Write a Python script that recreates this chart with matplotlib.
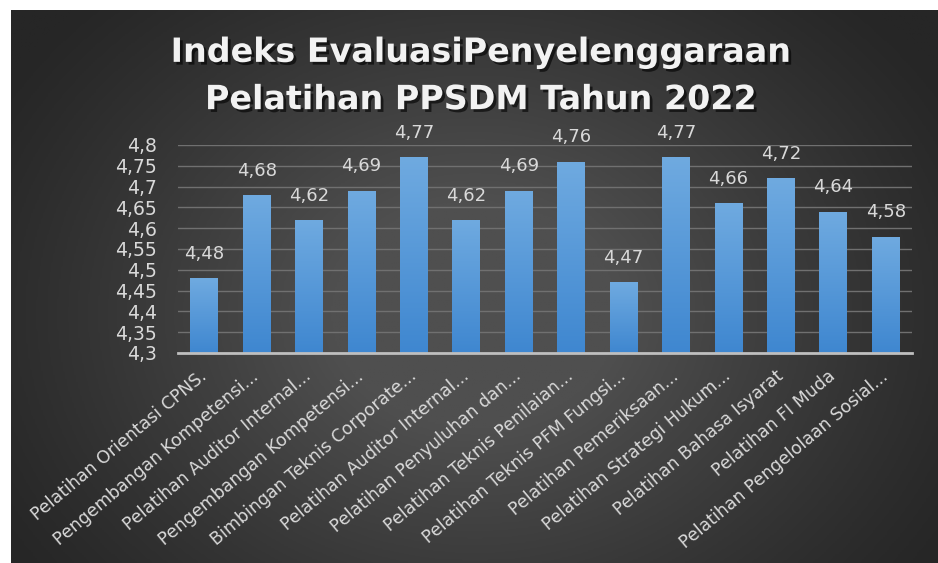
import numpy as np
import matplotlib
matplotlib.use("Agg")
import matplotlib.pyplot as plt
import matplotlib.patheffects as pe
from matplotlib.colors import LinearSegmentedColormap

categories = [
    "Pelatihan Orientasi CPNS.",
    "Pengembangan Kompetensi...",
    "Pelatihan Auditor Internal...",
    "Pengembangan Kompetensi...",
    "Bimbingan Teknis Corporate...",
    "Pelatihan Auditor Internal...",
    "Pelatihan Penyuluhan dan...",
    "Pelatihan Teknis Penilaian...",
    "Pelatihan Teknis PFM Fungsi...",
    "Pelatihan Pemeriksaan...",
    "Pelatihan Strategi Hukum...",
    "Pelatihan Bahasa Isyarat",
    "Pelatihan FI Muda",
    "Pelatihan Pengelolaan Sosial...",
]
values = [4.48, 4.68, 4.62, 4.69, 4.77, 4.62, 4.69, 4.76, 4.47, 4.77, 4.66, 4.72, 4.64, 4.58]
yticks = [4.3, 4.35, 4.4, 4.45, 4.5, 4.55, 4.6, 4.65, 4.7, 4.75, 4.8]
title = "Indeks EvaluasiPenyelenggaraan\nPelatihan PPSDM Tahun 2022"

W, H = 938, 563
fig = plt.figure(figsize=(W / 100, H / 100), dpi=100, facecolor="white")

# dark radial background, white strip top and left
bg = fig.add_axes([11 / W, 0, 1 - 11 / W, 1 - 10 / H])
bg.set_axis_off()
yy, xx = np.mgrid[0:1:300j, 0:1:500j]
r = np.sqrt(((xx - 0.5) / 0.6) ** 2 + ((yy - 0.55) / 0.8) ** 2)
shade = np.clip(1 - r, 0, 1) ** 1.2
bgcmap = LinearSegmentedColormap.from_list("bg", ["#262626", "#4f4f4f"])
bg.imshow(shade, cmap=bgcmap, aspect="auto", extent=[0, 1, 0, 1], vmin=0, vmax=0.7)
bg.set_xlim(0, 1)
bg.set_ylim(0, 1)

ax = fig.add_axes([178 / W, 210 / H, 734 / W, 208 / H])
ax.set_facecolor("none")
x = np.arange(len(values))
bars = ax.bar(x, values, width=0.53, color="#5b9bd5", zorder=3)

barcmap = LinearSegmentedColormap.from_list("bar", ["#3f87d0", "#6faae0"])
grad = np.linspace(0, 1, 100).reshape(-1, 1)
for b in bars:
    x0, w, h = b.get_x(), b.get_width(), b.get_height()
    im = ax.imshow(grad, cmap=barcmap, aspect="auto", origin="lower",
                   extent=[x0, x0 + w, 4.3, h], zorder=4)
    im.set_clip_path(b)
ax.set_ylim(4.3, 4.8)
ax.set_xlim(-0.5, len(values) - 0.5)

for xi, v in zip(x, values):
    ax.annotate(f"{v:.2f}".replace(".", ","), (xi, v), xytext=(0, 11),
                textcoords="offset points", ha="center", va="bottom",
                color="#d9d9d9", fontsize=13, zorder=5)

ax.set_yticks(yticks)
ax.set_yticklabels([f"{t:g}".replace(".", ",") for t in yticks], color="#d9d9d9", fontsize=13.5)
ax.grid(axis="y", color="#707070", linewidth=1, zorder=0)
ax.set_xticks(x)
ax.set_xticklabels(categories, rotation=40, ha="right", va="center",
                   rotation_mode="anchor", color="#d9d9d9", fontsize=12.5)
ax.tick_params(axis="both", length=0)
ax.tick_params(axis="x", pad=15)
ax.tick_params(axis="y", pad=15)
for s in ["top", "right", "left"]:
    ax.spines[s].set_visible(False)
ax.spines["bottom"].set_color("#bfbfbf")
ax.spines["bottom"].set_linewidth(2)
ax.spines["bottom"].set_zorder(6)

fig.text(481 / W, 1 - 76 / H, title, ha="center", va="center", color="#f2f2f2",
         fontsize=24, fontweight="bold", linespacing=1.55,
         path_effects=[pe.withSimplePatchShadow(offset=(2, -2), shadow_rgbFace="black", alpha=0.6)])

fig.savefig("out.png", dpi=100, facecolor=fig.get_facecolor())
